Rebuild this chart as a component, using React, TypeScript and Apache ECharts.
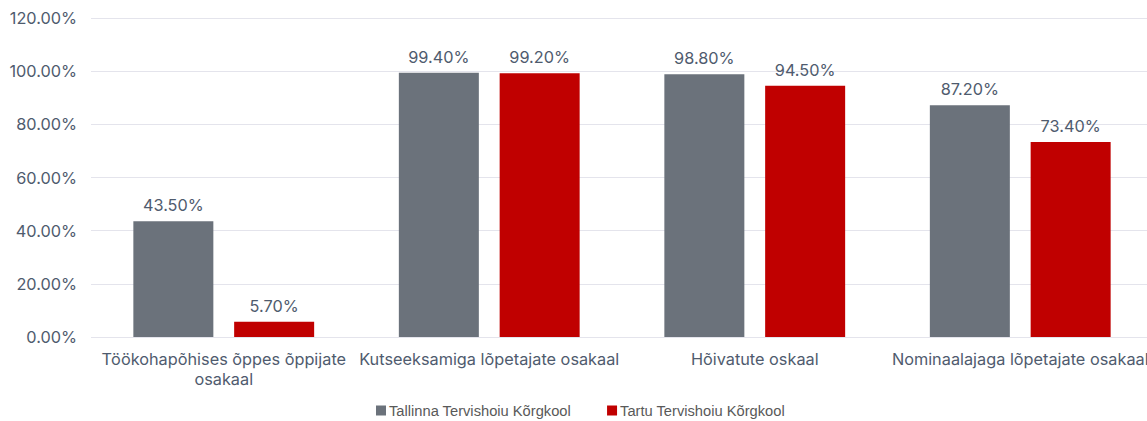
import React, { useEffect, useRef } from "react";
import * as echarts from "echarts";

const categories = [
  "Töökohapõhises õppes õppijate\nosakaal",
  "Kutseeksamiga lõpetajate osakaal",
  "Hõivatute oskaal",
  "Nominaalajaga lõpetajate osakaal",
];
const seriesNames = ["Tallinna Tervishoiu Kõrgkool", "Tartu Tervishoiu Kõrgkool"];
const tallinn = [43.5, 99.4, 98.8, 87.2];
const tartu = [5.7, 99.2, 94.5, 73.4];
const colors = ["#6b727b", "#c00000"];

const textColor = "#4f5b6e";
const font = "Inter, 'Noto Sans', sans-serif";

export default function App() {
  const ref = useRef<HTMLDivElement>(null);
  useEffect(() => {
    if (!ref.current) return;
    const chart = echarts.init(ref.current, undefined, { renderer: "svg" });
    chart.setOption({
      animation: false,
      grid: { left: 91, right: 7, top: 18, bottom: 84, containLabel: false },
      legend: {
        bottom: -2,
        left: 371,
        itemWidth: 10,
        itemHeight: 10,
        itemGap: 36,
        icon: "rect",
        textStyle: {
          color: "#595959",
          fontSize: 14.7,
          fontFamily: "'Liberation Sans', sans-serif",
          padding: [0, 0, 0, -2],
        },
        data: seriesNames,
      },
      xAxis: {
        type: "category",
        data: categories,
        axisLine: { show: false },
        axisTick: { show: false },
        axisLabel: {
          color: textColor,
          fontSize: 16.3,
          fontFamily: font,
          interval: 0,
          margin: 12,
          lineHeight: 20,
        },
      },
      yAxis: {
        type: "value",
        min: 0,
        max: 120,
        interval: 20,
        axisLine: { show: false },
        axisTick: { show: false },
        splitLine: { lineStyle: { color: "#e4e4ec", width: 1 } },
        axisLabel: {
          color: textColor,
          fontSize: 16.3,
          fontFamily: font,
          margin: 14,
          formatter: (v: number) => v.toFixed(2) + "%",
        },
      },
      series: [tallinn, tartu].map((d, i) => ({
        name: seriesNames[i],
        type: "bar",
        data: d,
        barWidth: 80,
        barGap: "26%",
        itemStyle: { color: colors[i] },
        label: {
          show: true,
          position: "top",
          distance: 8,
          color: textColor,
          fontSize: 16.3,
          fontFamily: font,
          formatter: (p: any) => p.value.toFixed(2) + "%",
        },
      })),
    });
    return () => chart.dispose();
  }, []);
  return (
    <div
      ref={ref}
      style={{ position: "fixed", left: 0, top: 0, width: 1160, height: 421, background: "#fff" }}
    />
  );
}
